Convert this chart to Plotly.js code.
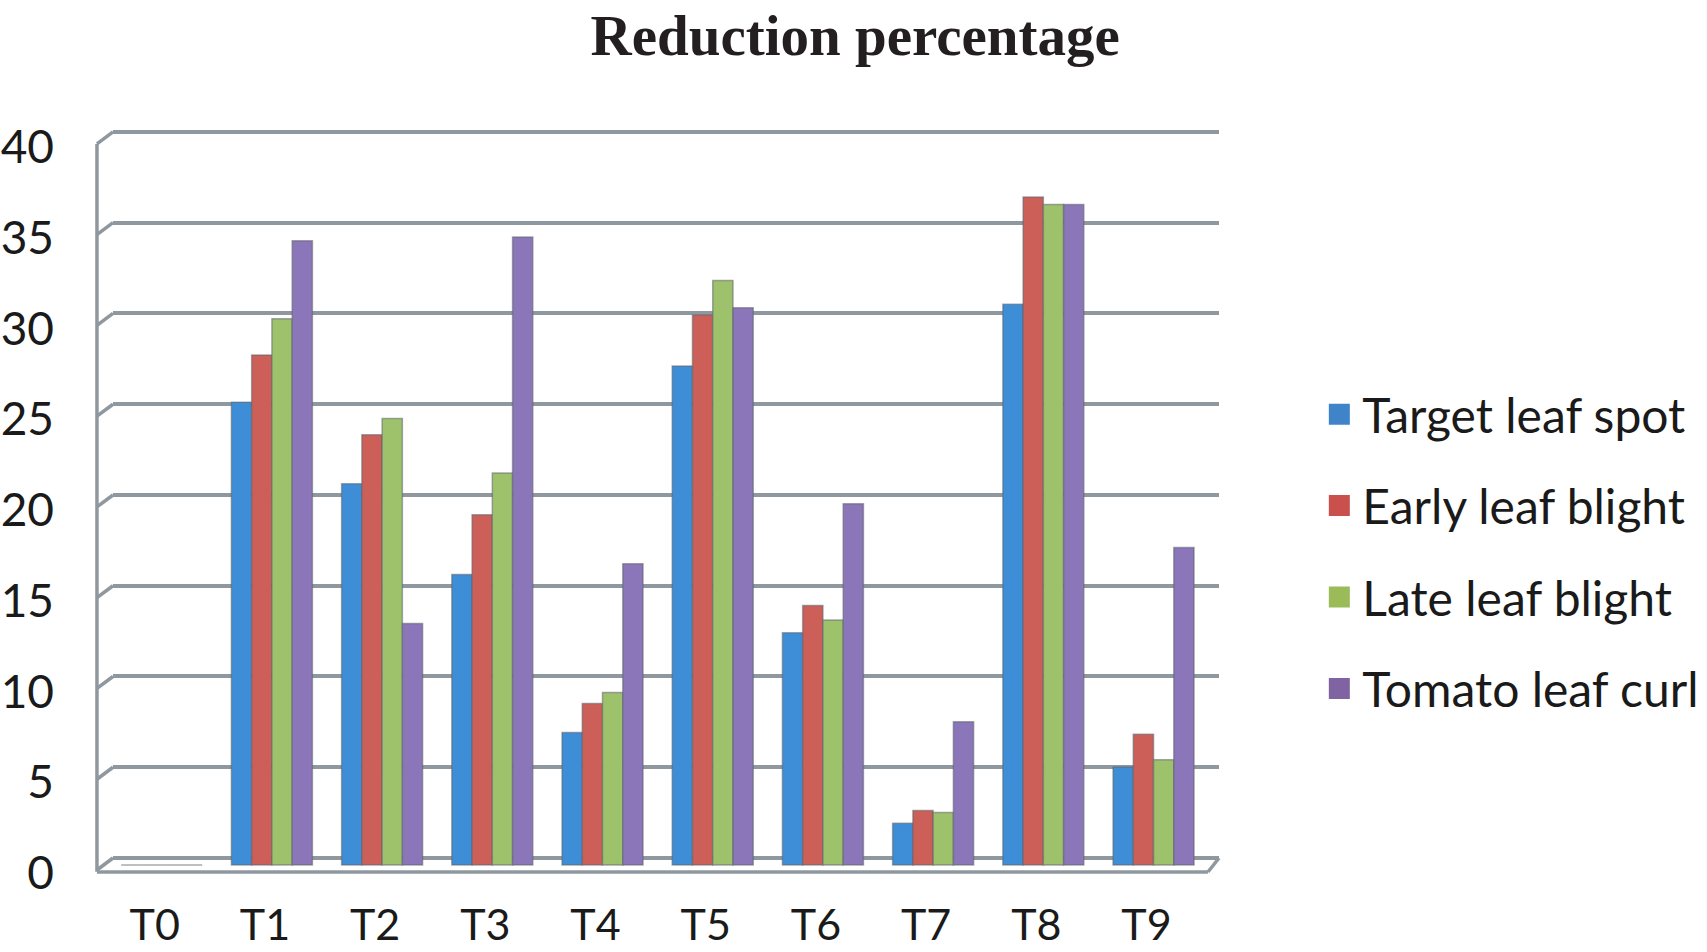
<!DOCTYPE html>
<html>
<head>
<meta charset="utf-8">
<script src="https://cdn.plot.ly/plotly-3.0.1.min.js"></script>
<style>
  html, body { margin: 0; padding: 0; background: #ffffff; }
  #chart { width: 1707px; height: 952px; }
</style>
</head>
<body>
<div id="chart"></div>
<script>
// ---- data ----
const categories = ['T0', 'T1', 'T2', 'T3', 'T4', 'T5', 'T6', 'T7', 'T8', 'T9'];
const seriesNames = ['Target leaf spot', 'Early leaf blight', 'Late leaf blight', 'Tomato leaf curl'];
const targetLeafSpot  = [0, 25.5, 21.0, 16.0, 7.3, 27.5, 12.8, 2.3, 30.9, 5.4];
const earlyLeafBlight = [0, 28.1, 23.7, 19.3, 8.9, 30.3, 14.3, 3.0, 36.8, 7.2];
const lateLeafBlight  = [0, 30.1, 24.6, 21.6, 9.5, 32.2, 13.5, 2.9, 36.4, 5.8];
const tomatoLeafCurl  = [0, 34.4, 13.3, 34.6, 16.6, 30.7, 19.9, 7.9, 36.4, 17.5];
const yTickValues = [0, 5, 10, 15, 20, 25, 30, 35, 40];

// ---- styling ----
const barColors    = ['#3e8ed7', '#cc5f58', '#9dc26b', '#8a76b8'];
const legendColors = ['#3f84c9', '#c9504c', '#9bbb59', '#8064a2'];
const gridColor = '#8f989f';
const sansFont = 'Lato, "Open Sans", sans-serif';

const seriesValues = [targetLeafSpot, earlyLeafBlight, lateLeafBlight, tomatoLeafCurl];

const traces = [];
seriesValues.forEach((vals, i) => {
  traces.push({
    type: 'bar',
    x: categories,
    y: vals,
    name: seriesNames[i],
    showlegend: false,
    marker: { color: barColors[i], line: { color: 'rgba(95,100,110,0.55)', width: 1.5 } },
    hoverinfo: 'x+y+name'
  });
});
// legend entries (large square swatches)
seriesNames.forEach((nm, i) => {
  traces.push({
    type: 'scatter',
    mode: 'markers',
    x: [null], y: [null],
    yaxis: 'y2',
    name: nm,
    legendgroup: 'g' + i,
    marker: { symbol: 'square', size: 16, color: legendColors[i], line: { color: legendColors[i], width: 5 } },
    hoverinfo: 'skip'
  });
});

// 3D-like wall decoration (front-left edge, side-wall connectors, floor front edge)
const frontDx = -0.0145;     // paper offset of the front edge
const frontDy = -0.66;       // value offset of the front edge (y2 units)
const shapes = [];
const wallLine = { color: gridColor, width: 3.5 };
shapes.push({ type: 'line', xref: 'paper', yref: 'y2', x0: frontDx, x1: frontDx,
  y0: yTickValues[0] + frontDy - 0.1, y1: yTickValues[yTickValues.length - 1] + frontDy, line: wallLine, layer: 'below' });
yTickValues.forEach(v => {
  shapes.push({ type: 'line', xref: 'paper', yref: 'y2', x0: frontDx, x1: 0,
    y0: v + frontDy, y1: v, line: wallLine, layer: 'below' });
});
shapes.push({ type: 'line', xref: 'paper', yref: 'y2', x0: frontDx, x1: 0.99,
  y0: -0.77, y1: -0.77, line: wallLine, layer: 'below' });
shapes.push({ type: 'line', xref: 'paper', yref: 'y2', x0: 0.99, x1: 1.0,
  y0: -0.77, y1: 0, line: wallLine, layer: 'below' });

const layout = {
  width: 1707,
  height: 952,
  margin: { l: 113, r: 488, t: 110, b: 72, pad: 0, autoexpand: false },
  paper_bgcolor: '#ffffff',
  plot_bgcolor: 'rgba(0,0,0,0)',
  title: {
    text: '<b>Reduction percentage</b>',
    font: { family: '"Liberation Serif", "Times New Roman", serif', size: 57, color: '#231f20' },
    x: 0.501, xanchor: 'center', xref: 'container',
    y: 0.963, yanchor: 'middle', yref: 'container'
  },
  barmode: 'group',
  bargap: 0.265,
  bargroupgap: 0,
  xaxis: {
    type: 'category',
    range: [-0.442, 9.594],
    showgrid: false,
    zeroline: false,
    showline: false,
    ticks: '',
    ticklabelstandoff: 16,
    ticklabelshift: -7,
    tickfont: { family: sansFont, size: 43, color: '#1a1a1a' },
    fixedrange: true
  },
  yaxis: {
    range: [-0.826, 41.6],
    tickvals: yTickValues,
    ticktext: yTickValues.map(String),
    showgrid: false,
    zeroline: false,
    showline: false,
    ticks: '',
    ticklabelstandoff: 58,
    ticklabelshift: 8,
    tickfont: { family: sansFont, size: 46, color: '#1a1a1a' },
    fixedrange: true
  },
  yaxis2: {
    overlaying: 'y',
    side: 'left',
    range: [-1.212, 41.21],
    tickvals: yTickValues,
    showticklabels: false,
    ticks: '',
    showgrid: true,
    gridcolor: gridColor,
    gridwidth: 3.5,
    zeroline: true,
    zerolinecolor: gridColor,
    zerolinewidth: 3.5,
    showline: false,
    fixedrange: true
  },
  legend: {
    x: 1.088, xanchor: 'left',
    y: 0.4266, yanchor: 'middle',
    font: { family: sansFont, size: 48, color: '#1a1a1a' },
    tracegroupgap: 26,
    itemwidth: 36,
    bgcolor: 'rgba(0,0,0,0)'
  },
  shapes: shapes,
  showlegend: true
};

Plotly.newPlot('chart', traces, layout, { displayModeBar: false, staticPlot: false });
</script>
</body>
</html>
